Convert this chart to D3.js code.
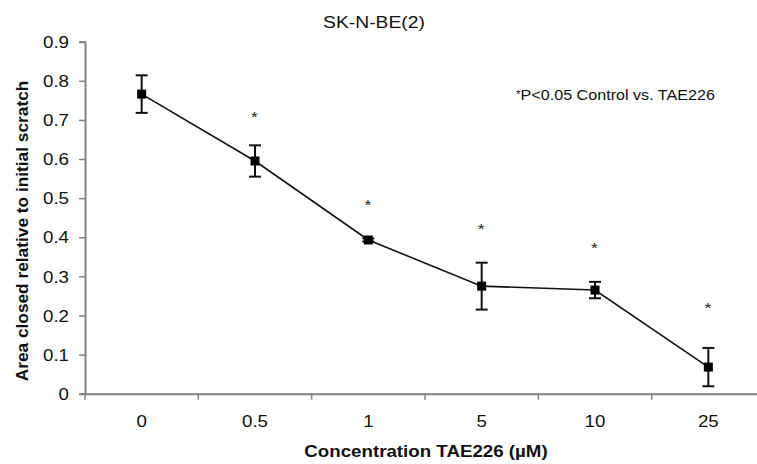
<!DOCTYPE html>
<html><head><meta charset="utf-8">
<script src="https://cdn.jsdelivr.net/npm/d3@7"></script>
<style>body{margin:0;background:#fff}svg{display:block}text{font-family:Arial,"Liberation Sans",sans-serif}</style>
</head><body>
<script>
const categories = ["0","0.5","1","5","10","25"];
const values = [0.766, 0.595, 0.393, 0.275, 0.265, 0.068];
const errors = [0.048, 0.040, 0.004, 0.060, 0.021, 0.049];
const starLevels = [null, 0.713, 0.490, 0.427, 0.380, 0.226];
const yTicks = [0,0.1,0.2,0.3,0.4,0.5,0.6,0.7,0.8,0.9];
const title = "SK-N-BE(2)";
const xTitle = "Concentration TAE226 (µM)";
const yTitle = "Area closed relative to initial scratch";
const note = "*P<0.05 Control vs. TAE226";

const W=757,H=464, SX=1.17, FONT="Arial, 'Liberation Sans', sans-serif";
const svg=d3.select("body").append("svg").attr("width",W).attr("height",H);
const x=d3.scaleBand().domain(categories).range([85,765]).paddingInner(0).paddingOuter(0);
const y=d3.scaleLinear().domain([0,0.9]).range([393.7,41.7]);
const axisCol="#808080";

function sText(g,px,py,str,size,opts={}){
  const t=g.append("text").attr("transform",`translate(${px},${py}) scale(${SX},1)`)
    .attr("font-size",size).attr("font-family",FONT).attr("fill","#111")
    .attr("text-anchor",opts.anchor||"middle");
  if(opts.bold) t.attr("font-weight","bold");
  if(str!=null) t.text(str);
  return t;
}

// y axis
const ya=svg.append("g").attr("transform","translate(85,0)")
  .call(d3.axisLeft(y).tickValues(yTicks).tickSize(6).tickFormat(""));
ya.select(".domain").attr("stroke",axisCol).attr("stroke-width",2);
ya.selectAll(".tick line").attr("stroke",axisCol).attr("stroke-width",1.5);
ya.selectAll(".tick").each(function(d){
  sText(d3.select(this),-16,5.7,d===0?"0":d3.format(".1f")(d),16,{anchor:"end"});
});

// x axis
const xa=svg.append("g").attr("transform","translate(0,"+y(0)+")")
  .call(d3.axisBottom(x).tickSize(0).tickFormat(""));
xa.select(".domain").attr("stroke",axisCol).attr("stroke-width",2);
xa.selectAll(".tick").each(function(d){
  sText(d3.select(this),0,33,d,16);
});
const bounds=categories.map(c=>x(c));
svg.append("g").selectAll("line").data(bounds).join("line")
  .attr("x1",d=>d).attr("x2",d=>d).attr("y1",y(0)).attr("y2",y(0)+6)
  .attr("stroke",axisCol).attr("stroke-width",1.5);

const cx=c=>x(c)+x.bandwidth()/2;
const data=categories.map((c,i)=>({c,v:values[i],e:errors[i],s:starLevels[i]}));

svg.append("path").datum(data)
  .attr("d",d3.line().x(d=>cx(d.c)).y(d=>y(d.v)))
  .attr("fill","none").attr("stroke","#111").attr("stroke-width",1.6);

const eb=svg.append("g").attr("stroke","#111").attr("stroke-width",2);
data.forEach(d=>{
  eb.append("line").attr("x1",cx(d.c)).attr("x2",cx(d.c)).attr("y1",y(d.v+d.e)).attr("y2",y(d.v-d.e));
  [d.v+d.e,d.v-d.e].forEach(v=>eb.append("line").attr("x1",cx(d.c)-6).attr("x2",cx(d.c)+6).attr("y1",y(v)).attr("y2",y(v)));
});

svg.append("g").selectAll("rect").data(data).join("rect")
  .attr("x",d=>cx(d.c)-4.5).attr("y",d=>y(d.v)-4.5).attr("width",9).attr("height",9).attr("fill","#000");

const sg=svg.append("g");
data.filter(d=>d.s!=null).forEach(d=>sText(sg,cx(d.c)-0.5,y(d.s)+7.5,"*",15).attr("fill","#222"));

sText(svg,374,28,title,16.5);
sText(svg,426,457,xTitle,16,{bold:true});
svg.append("text").attr("transform","translate(28,231) rotate(-90)").attr("text-anchor","middle")
  .attr("font-size",17.3).attr("font-weight","bold").attr("font-family",FONT).attr("fill","#111").text(yTitle);
const nt=sText(svg,516,100,null,13.8,{anchor:"start"});
nt.append("tspan").attr("font-size",10).attr("dy",-2).text("*");
nt.append("tspan").attr("dy",2).text(note.slice(1));
</script>
</body></html>
